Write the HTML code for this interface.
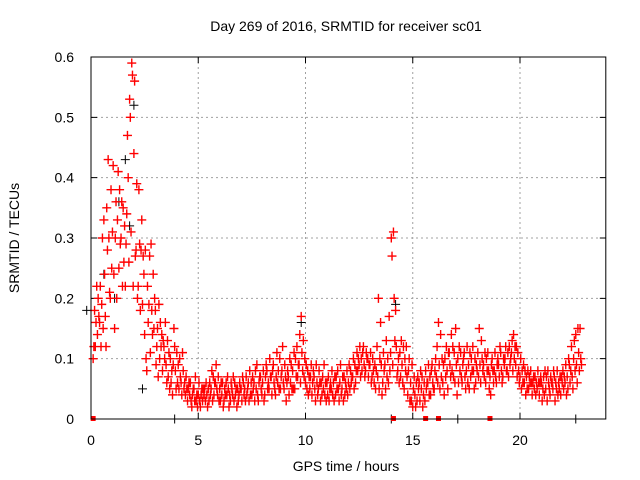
<!DOCTYPE html>
<html><head><meta charset="utf-8"><style>
html,body{margin:0;padding:0;background:#fff;}
svg{display:block;font-family:"Liberation Sans",sans-serif;}
</style></head><body>
<svg id="chart" width="640" height="480">
<text x="346" y="31" font-size="14" text-anchor="middle" fill="#000">Day 269 of 2016, SRMTID for receiver sc01</text>
<text x="346" y="471" font-size="14" text-anchor="middle" fill="#000">GPS time / hours</text>
<text transform="translate(19,238) rotate(-90)" font-size="14" text-anchor="middle" fill="#000">SRMTID / TECUs</text>
<g id="grid"></g>
<g id="ticks"></g>
<g id="black"></g>
<g id="red"></g>
<rect x="91" y="57" width="514.8" height="362" fill="none" stroke="#000" stroke-width="1"/>
</svg>
<script>
const xTicks = [0, 5, 10, 15, 20];
const yTicks = [0, 0.1, 0.2, 0.3, 0.4, 0.5, 0.6];
const yTickLabels = ["0", "0.1", "0.2", "0.3", "0.4", "0.5", "0.6"];
const redStart = 0.1, redStep = 0.1;
const redValues = [
.10,.12,.18, .12,.16,.22, .14,.20,.17, .16,.22,.12, .19,.30,.15, .33,.24,.17, .12,.35,.28, .43,.30,.21, .20,.38,.25,
.31,.42,.24, .15,.30,.36, .20,.33,.41, .25,.38,.29, .30,.36,.22, .35,.26,.32, .22,.29,.34, .47,.40,.26, .53,.50,.31, .59,.57,.22,
.44,.56,.27, .28,.39,.20, .22,.38,.29, .18,.28,.33, .19,.27,.24, .14,.28,.10, .08,.22,.16, .19,.27,.11, .29,.18,.14, .24,.15,.20,
.18,.09,.12, .15,.07,.19, .10,.16,.12, .14,.08,.13, .12,.10,.16, .09,.06,.13, .07,.11,.05, .10,.06,.08, .04,.09,.15, .12,.08,.05,
.11,.06,.09, .05,.10,.07, .06,.04,.11, .08,.05,.06, .04,.07,.05, .03,.05,.06, .04,.06,.03, .02,.04,.05, .05,.03,.07, .03,.04,.02,
.04,.06,.03, .02,.04,.05, .03,.05,.04, .05,.03,.06, .04,.02,.05, .03,.06,.04, .05,.08,.03, .07,.04,.06, .06,.09,.05, .04,.07,.03,
.05,.03,.06, .04,.06,.02, .03,.05,.04, .06,.04,.07, .05,.02,.04, .03,.06,.05, .04,.07,.03, .06,.04,.05, .02,.05,.03, .04,.06,.05,
.05,.03,.07, .06,.04,.05, .03,.07,.04, .05,.06,.03, .08,.04,.06, .04,.07,.05, .06,.03,.08, .05,.09,.04, .03,.06,.07, .07,.05,.04,
.06,.08,.03, .04,.07,.09, .08,.05,.06, .05,.10,.07, .07,.04,.08, .09,.06,.05, .04,.07,.11, .06,.08,.05, .10,.05,.07, .08,.12,.06,
.05,.09,.07, .03,.06,.08, .07,.04,.10, .06,.09,.05, .08,.05,.11, .05,.10,.07, .12,.07,.09, .09,.14,.06, .17,.11,.08, .13,.07,.10,
.06,.09,.05, .08,.04,.07, .05,.07,.09, .04,.06,.08, .07,.05,.03, .09,.06,.04, .05,.08,.06, .03,.06,.04, .07,.05,.09, .04,.06,.03,
.06,.04,.07, .03,.05,.06, .05,.08,.04, .06,.03,.07, .04,.07,.05, .08,.05,.03, .06,.09,.04, .05,.07,.03, .07,.04,.06, .05,.08,.04,
.06,.09,.05, .08,.06,.07, .07,.10,.05, .09,.06,.08, .11,.08,.10, .09,.12,.07, .10,.08,.11, .12,.09,.07, .08,.11,.10, .10,.07,.09,
.09,.11,.06, .07,.10,.08, .06,.09,.05, .08,.12,.07, .20,.05,.10, .16,.09,.04, .06,.11,.08, .09,.05,.13, .07,.10,.06, .17,.08,.11,
.30,.27,.09, .31,.20,.13, .18,.12,.07, .08,.10,.06, .11,.07,.13, .09,.06,.12, .05,.10,.08, .12,.07,.04, .08,.10,.03, .06,.03,.09,
.02,.05,.07, .04,.02,.06, .03,.07,.05, .06,.03,.08, .05,.07,.02, .04,.06,.03, .08,.05,.06, .06,.09,.04, .07,.04,.08, .09,.06,.05,
.05,.08,.10, .07,.12,.06, .16,.09,.05, .14,.07,.10, .06,.09,.04, .10,.07,.12, .08,.05,.11, .11,.09,.07, .14,.08,.12, .07,.11,.06,
.15,.09,.04, .10,.06,.12, .08,.11,.07, .06,.09,.10, .11,.07,.05, .08,.12,.06, .09,.05,.11, .07,.10,.08, .12,.08,.05, .10,.06,.09,
.08,.11,.07, .15,.09,.06, .13,.10,.08, .09,.07,.11, .06,.10,.08, .11,.08,.05, .07,.04,.09, .10,.08,.06, .08,.11,.07, .06,.09,.10,
.09,.07,.12, .11,.08,.06, .07,.10,.09, .10,.12,.08, .08,.11,.07, .12,.09,.10, .11,.13,.08, .14,.10,.12, .09,.12,.07, .11,.08,.06,
.07,.10,.05, .08,.06,.09, .06,.08,.04, .07,.05,.08, .05,.07,.06, .08,.06,.04, .06,.07,.05, .07,.04,.06, .05,.08,.06, .04,.06,.07,
.06,.03,.05, .07,.04,.08, .05,.07,.03, .08,.06,.05, .04,.07,.06, .06,.05,.08, .07,.03,.06, .05,.08,.04, .06,.05,.07, .04,.07,.06,
.08,.05,.07, .06,.09,.04, .07,.05,.10, .09,.06,.08, .12,.07,.05, .10,.13,.08, .14,.09,.06, .15,.11,.08, .15,.10,.09
];
const blackHours = [-0.2, 0.6, 1.1, 1.3, 1.6, 1.8, 2.0, 2.4, 9.8, 14.2, 3.9, 14.0, 17.1, 22.6];
const blackValues = [0.18, 0.24, 0.20, 0.36, 0.43, 0.32, 0.52, 0.05, 0.16, 0.19, 0, 0, 0, 0];
const zeroHours = [0.1, 14.1, 15.6, 16.2, 18.6];

const X0 = 91, X1 = 605.8, Y0 = 419, Y1 = 57, XMAX = 24, YMAX = 0.6;
function xs(h){ return X0 + (h / XMAX) * (X1 - X0); }
function ys(v){ return Y0 - (v / YMAX) * (Y0 - Y1); }
const NS = "http://www.w3.org/2000/svg";
function mk(tag, attrs, parent){
  const e = document.createElementNS(NS, tag);
  for (const k in attrs) e.setAttribute(k, attrs[k]);
  parent.appendChild(e);
  return e;
}
const grid = document.getElementById("grid");
const ticks = document.getElementById("ticks");
const svg = document.getElementById("chart");
xTicks.forEach(function(t){
  const x = xs(t);
  if (t > 0) {
    const g = mk("line", {x1:x, y1:Y1, x2:x, y2:Y0, stroke:"#a0a0a0", "stroke-dasharray":"2,3", "stroke-width":1}, grid);
    
    
  }
  const tk = mk("path", {d:"M"+x+","+Y0+"v-6M"+x+","+Y1+"v6", stroke:"#000", "stroke-width":1}, ticks);
  
  
  const lb = mk("text", {x:x, y:445, "font-size":14, "text-anchor":"middle"}, svg);
  lb.textContent = String(t);
  
  
});
yTicks.forEach(function(t, i){
  const y = ys(t);
  if (t > 0 && t < YMAX) {
    const g = mk("line", {x1:X0, y1:y, x2:X1, y2:y, stroke:"#a0a0a0", "stroke-dasharray":"2,3", "stroke-width":1}, grid);
    
    
  }
  const tk = mk("path", {d:"M"+X0+","+y+"h6M"+X1+","+y+"h-6", stroke:"#000", "stroke-width":1}, ticks);
  
  
  const lb = mk("text", {x:74, y:y + 5, "font-size":14, "text-anchor":"end"}, svg);
  lb.textContent = yTickLabels[i];
  
  
});
function plus(x, y){ return "M"+(x-4.5)+","+y+"h9M"+x+","+(y-4.5)+"v9"; }
const blackG = document.getElementById("black");
let bd = "";
blackHours.forEach(function(h, i){ bd += plus(xs(h), ys(blackValues[i])); });
const bp = mk("path", {d:bd, stroke:"#000", "stroke-width":1, fill:"none"}, blackG);


const redG = document.getElementById("red");
let rd = "";
for (let i = 0; i < redValues.length; i++) {
  const step = Math.floor(i / 3), sub = i % 3;
  const h = redStart + step * redStep + sub * redStep / 3;
  rd += plus(xs(h), ys(redValues[i]));
}
const rp = mk("path", {d:rd, stroke:"#ff0000", "stroke-width":1.4, fill:"none"}, redG);


zeroHours.forEach(function(h){
  const r = mk("rect", {x:xs(h)-2.5, y:Y0-3, width:5, height:5, fill:"#ff0000"}, redG);
  
  
});
</script>
</body></html>
